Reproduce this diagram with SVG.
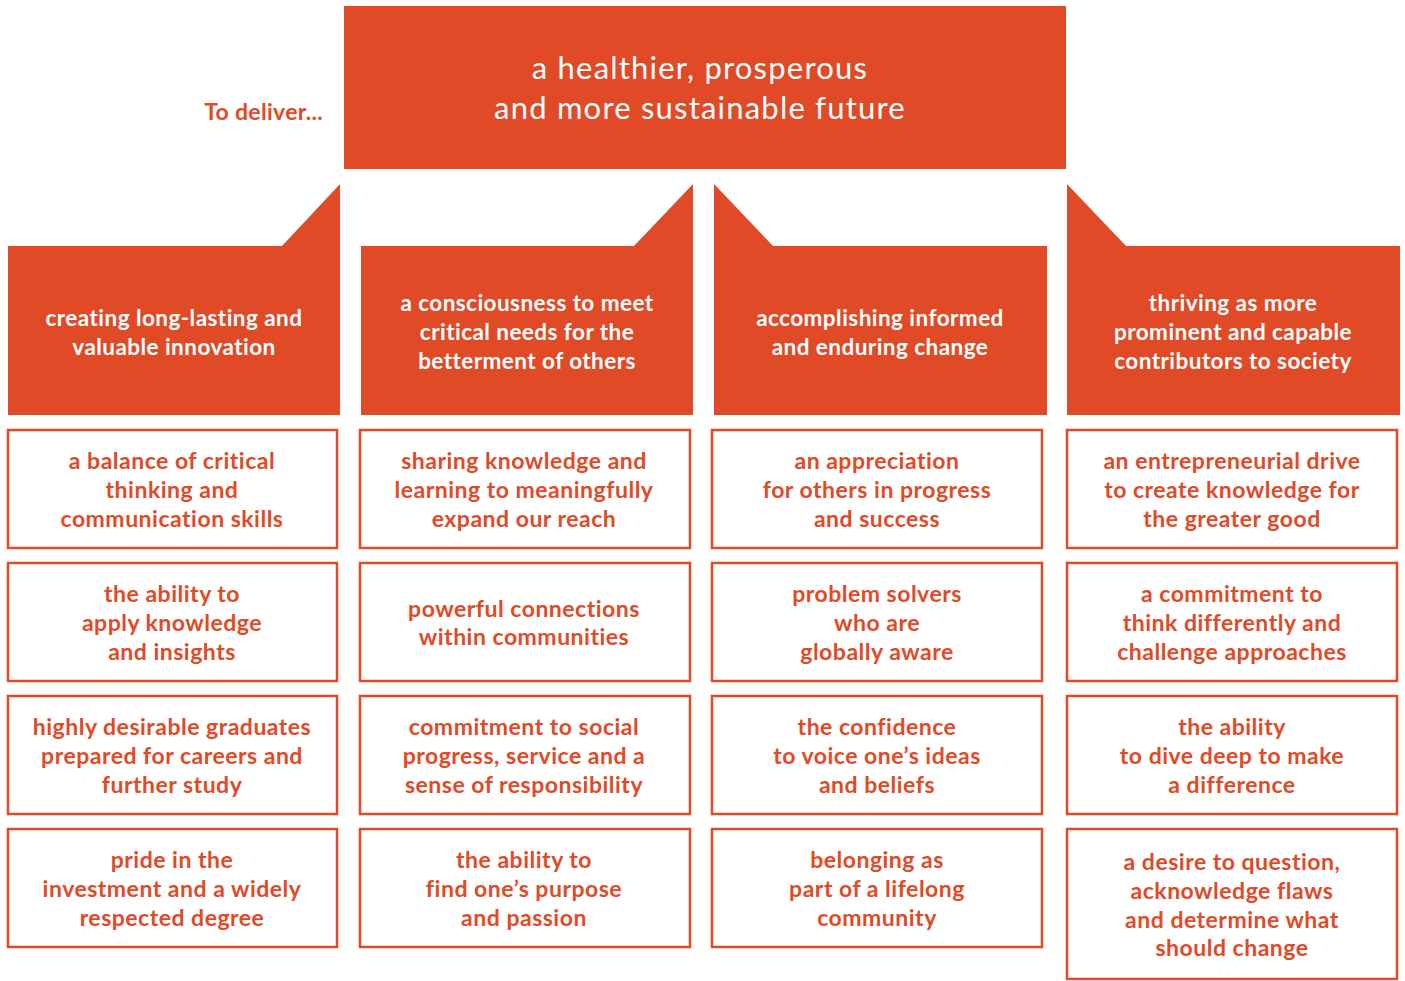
<svg xmlns="http://www.w3.org/2000/svg" width="1405" height="981" viewBox="0 0 1405 981">
<style>
.fill{fill:#E04A27}
.box{fill:#fff;stroke:#E04A27;stroke-width:2.5}
.t{font-family:Lato,"Open Sans","Liberation Sans",sans-serif;font-weight:700;font-size:23px;letter-spacing:0.5px;text-anchor:middle}
.h{font-size:22.5px;letter-spacing:0.45px}
.w{fill:#fff}
.o{fill:#E04A27}
.title{font-family:Lato,"Open Sans","Liberation Sans",sans-serif;font-weight:400;font-size:31px;letter-spacing:1.2px;text-anchor:middle;fill:#fff}
</style>
<rect width="1405" height="981" fill="#fff"/>
<g id="lead"><text x="323" y="120" class="t o" style="text-anchor:end;letter-spacing:0.3px">To deliver...</text></g>
<g id="goal">
<rect x="344" y="6" width="722" height="163" class="fill"/>
<text class="title"><tspan x="700" y="79">a healthier, prosperous</tspan><tspan x="700" y="119">and more sustainable future</tspan></text>
</g>
<g id="connectors"></g>
<g id="h1"><polygon class="fill" points="8,246 282,246 340,184 340,415 8,415"/>
<text class="t h w"><tspan x="174" y="326">creating long-lasting and</tspan><tspan x="174" y="355">valuable innovation</tspan></text></g>
<g id="h2"><polygon class="fill" points="361,246 634,246 693,184 693,415 361,415"/>
<text class="t h w"><tspan x="527" y="311">a consciousness to meet</tspan><tspan x="527" y="340">critical needs for the</tspan><tspan x="527" y="369">betterment of others</tspan></text></g>
<g id="h3"><polygon class="fill" points="714,184 773,246 1047,246 1047,415 714,415"/>
<text class="t h w"><tspan x="880" y="326">accomplishing informed</tspan><tspan x="880" y="355">and enduring change</tspan></text></g>
<g id="h4"><polygon class="fill" points="1067,184 1126,246 1400,246 1400,415 1067,415"/>
<text class="t h w"><tspan x="1233" y="311">thriving as more</tspan><tspan x="1233" y="340">prominent and capable</tspan><tspan x="1233" y="369">contributors to society</tspan></text></g>

<g id="c1r1"><rect class="box" x="8" y="430" width="329" height="118"/><text class="t o"><tspan x="172" y="469">a balance of critical</tspan><tspan x="172" y="498">thinking and</tspan><tspan x="172" y="527">communication skills</tspan></text></g>
<g id="c1r2"><rect class="box" x="8" y="563" width="329" height="118"/><text class="t o"><tspan x="172" y="602">the ability to</tspan><tspan x="172" y="631">apply knowledge</tspan><tspan x="172" y="660">and insights</tspan></text></g>
<g id="c1r3"><rect class="box" x="8" y="696" width="329" height="118"/><text class="t o"><tspan x="172" y="735">highly desirable graduates</tspan><tspan x="172" y="764">prepared for careers and</tspan><tspan x="172" y="793">further study</tspan></text></g>
<g id="c1r4"><rect class="box" x="8" y="829" width="329" height="118"/><text class="t o"><tspan x="172" y="868">pride in the</tspan><tspan x="172" y="897">investment and a widely</tspan><tspan x="172" y="926">respected degree</tspan></text></g>

<g id="c2r1"><rect class="box" x="360" y="430" width="330" height="118"/><text class="t o"><tspan x="524" y="469">sharing knowledge and</tspan><tspan x="524" y="498">learning to meaningfully</tspan><tspan x="524" y="527">expand our reach</tspan></text></g>
<g id="c2r2"><rect class="box" x="360" y="563" width="330" height="118"/><text class="t o"><tspan x="524" y="617">powerful connections</tspan><tspan x="524" y="645">within communities</tspan></text></g>
<g id="c2r3"><rect class="box" x="360" y="696" width="330" height="118"/><text class="t o"><tspan x="524" y="735">commitment to social</tspan><tspan x="524" y="764">progress, service and a</tspan><tspan x="524" y="793">sense of responsibility</tspan></text></g>
<g id="c2r4"><rect class="box" x="360" y="829" width="330" height="118"/><text class="t o"><tspan x="524" y="868">the ability to</tspan><tspan x="524" y="897">find one’s purpose</tspan><tspan x="524" y="926">and passion</tspan></text></g>

<g id="c3r1"><rect class="box" x="712" y="430" width="330" height="118"/><text class="t o"><tspan x="877" y="469">an appreciation</tspan><tspan x="877" y="498">for others in progress</tspan><tspan x="877" y="527">and success</tspan></text></g>
<g id="c3r2"><rect class="box" x="712" y="563" width="330" height="118"/><text class="t o"><tspan x="877" y="602">problem solvers</tspan><tspan x="877" y="631">who are</tspan><tspan x="877" y="660">globally aware</tspan></text></g>
<g id="c3r3"><rect class="box" x="712" y="696" width="330" height="118"/><text class="t o"><tspan x="877" y="735">the confidence</tspan><tspan x="877" y="764">to voice one’s ideas</tspan><tspan x="877" y="793">and beliefs</tspan></text></g>
<g id="c3r4"><rect class="box" x="712" y="829" width="330" height="118"/><text class="t o"><tspan x="877" y="868">belonging as</tspan><tspan x="877" y="897">part of a lifelong</tspan><tspan x="877" y="926">community</tspan></text></g>

<g id="c4r1"><rect class="box" x="1067" y="430" width="330" height="118"/><text class="t o"><tspan x="1232" y="469">an entrepreneurial drive</tspan><tspan x="1232" y="498">to create knowledge for</tspan><tspan x="1232" y="527">the greater good</tspan></text></g>
<g id="c4r2"><rect class="box" x="1067" y="563" width="330" height="118"/><text class="t o"><tspan x="1232" y="602">a commitment to</tspan><tspan x="1232" y="631">think differently and</tspan><tspan x="1232" y="660">challenge approaches</tspan></text></g>
<g id="c4r3"><rect class="box" x="1067" y="696" width="330" height="118"/><text class="t o"><tspan x="1232" y="735">the ability</tspan><tspan x="1232" y="764">to dive deep to make</tspan><tspan x="1232" y="793">a difference</tspan></text></g>
<g id="c4r4"><rect class="box" x="1067" y="829" width="330" height="150"/><text class="t o"><tspan x="1232" y="870">a desire to question,</tspan><tspan x="1232" y="899">acknowledge flaws</tspan><tspan x="1232" y="928">and determine what</tspan><tspan x="1232" y="956">should change</tspan></text></g>
</svg>
